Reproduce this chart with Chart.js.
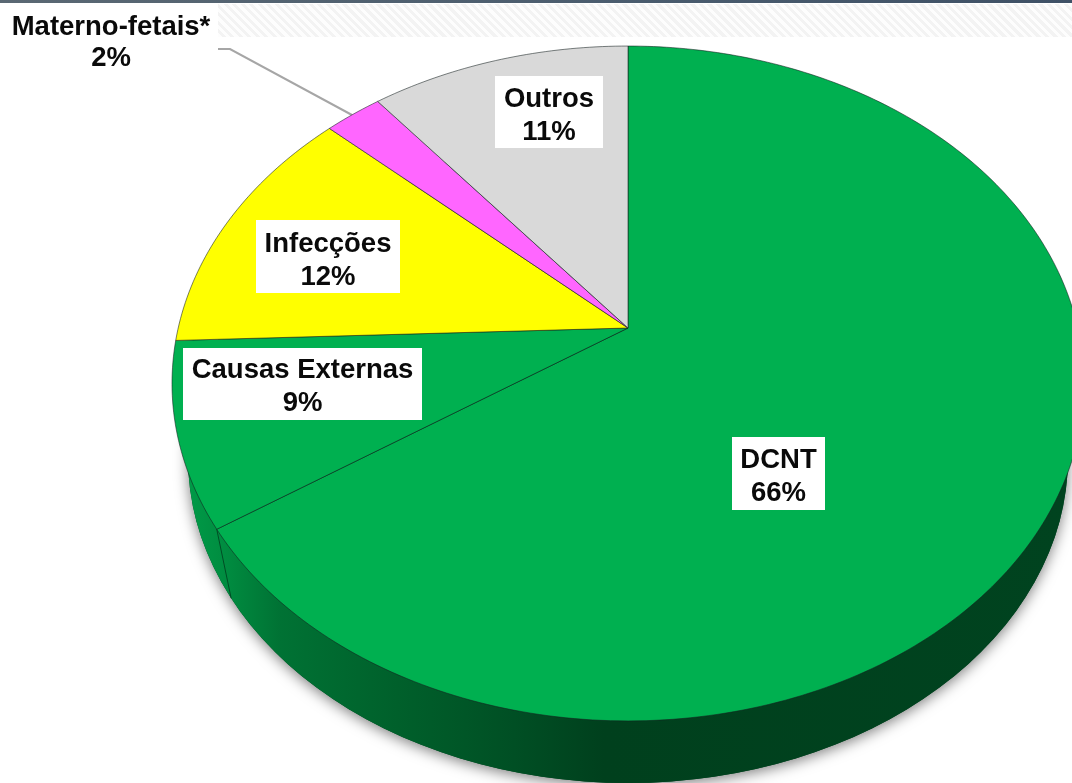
<!DOCTYPE html>
<html lang="pt">
<head>
<meta charset="utf-8">
<title>Causas de morte</title>
<script src="https://cdn.jsdelivr.net/npm/chart.js@4/dist/chart.umd.min.js"></script>
<style>
    html, body { margin: 0; padding: 0; background: #fff; overflow: hidden; }
    #wrap { position: relative; width: 1072px; height: 783px; }
    #topBar {
        position: absolute; left: 0; top: 0; width: 1072px; height: 3px;
        background: linear-gradient(90deg, #5a6873, #4a5c6e 60%, #3f5166);
    }
    #hatch {
        position: absolute; left: 218px; top: 4px; width: 854px; height: 33px;
        background: repeating-linear-gradient(45deg, #fdfdfd 0 3px, #f3f3f3 3px 6px);
    }
    canvas { position: absolute; left: 0; top: 0; }
</style>
</head>
<body>
<div id="wrap">
    <div id="topBar"></div>
    <div id="hatch"></div>
    <canvas id="pie" width="1072" height="783"></canvas>
</div>
<script>
// Values (printed labels are these, rounded)
const categories = ['DCNT', 'Causas Externas', 'Infecções', 'Materno-fetais*', 'Outros'];
const shares = [65.6, 8.8, 12.4, 2.4, 10.8];
const sliceColors = ['#00B050', '#00B050', '#FFFF00', '#FF66FF', '#D9D9D9'];

// Label boxes: x, y, w, h of the white background
const labelBoxes = [
    [732, 437, 93, 73],
    [183, 348, 239, 72],
    [256, 220, 144, 73],
    [0, 4, 218, 70],
    [495, 76, 108, 72]
];
// Label text: centre x, middle of first line, middle of second line
const labelText = [
    [778.5, 460, 493],
    [302.5, 370, 403],
    [328, 244, 277],
    [111, 27, 58],
    [549, 99, 132]
];

// Perspective of the tilted pie top: apex, and the vertical squeeze
const APEX_X = 628;
const APEX_Y = 328;
const SPREAD_X = 449.8;
const SPREAD_Y = 274.4;
const TILT = 0.1644;

// Ellipse of the top rim and of the lower edge of the side wall
const RIM = { x: 628, y: 383.5, rx: 456, ry: 337.5 };
const BASE = { x: 628, y: 458, rx: 440, ry: 325 };

/**
 * Map a point of the flat pie that Chart.js laid out on to the tilted disc
 */
function project(arc, angle, radius) {
    const u = radius / arc.outerRadius * Math.cos(angle);
    const v = radius / arc.outerRadius * Math.sin(angle);
    const d = 1 - TILT * v;
    return { x: APEX_X + SPREAD_X * u / d, y: (SPREAD_Y * v + APEX_Y) / d };
}

/**
 * Same place on the lower edge of the wall, for a point on the rim
 */
function toBase(p) {
    return {
        x: BASE.x + (p.x - RIM.x) * BASE.rx / RIM.rx,
        y: BASE.y + (p.y - RIM.y) * BASE.ry / RIM.ry
    };
}

// Slices are drawn in perspective, the angles still come from the controller
Chart.ArcElement.prototype.draw = function (ctx) {
    const { startAngle, endAngle, outerRadius } = this.getProps(['startAngle', 'endAngle', 'outerRadius']);
    const steps = Math.ceil((endAngle - startAngle) * 60);
    ctx.save();
    ctx.beginPath();
    ctx.moveTo(APEX_X, APEX_Y);
    for (let i = 0; i <= steps; i++) {
        const p = project(this, startAngle + (endAngle - startAngle) * i / steps, outerRadius);
        ctx.lineTo(p.x, p.y);
    }
    ctx.closePath();
    ctx.fillStyle = this.options.backgroundColor;
    ctx.fill();
    ctx.lineWidth = this.options.borderWidth;
    ctx.strokeStyle = this.options.borderColor;
    ctx.lineJoin = 'round';
    ctx.stroke();
    ctx.restore();
};

const sideWall = {
    id: 'sideWall',
    beforeDatasetsDraw(chart) {
        const ctx = chart.ctx;
        const shade = ctx.createLinearGradient(172, 0, 1072, 0);
        shade.addColorStop(0, '#00a04a');
        shade.addColorStop(0.06, '#008c40');
        shade.addColorStop(0.12, '#007234');
        shade.addColorStop(0.25, '#00602b');
        shade.addColorStop(0.38, '#004f24');
        shade.addColorStop(0.48, '#00401d');
        shade.addColorStop(1, '#00431f');

        ctx.save();
        ctx.shadowColor = 'rgba(0, 0, 0, 0.5)';
        ctx.shadowBlur = 14;
        ctx.shadowOffsetX = 0;
        ctx.shadowOffsetY = 3;
        ctx.fillStyle = '#00431f';
        ctx.beginPath();
        ctx.ellipse(BASE.x, BASE.y, BASE.rx, BASE.ry, 0, 0, Math.PI * 2);
        ctx.fill();
        ctx.restore();

        ctx.save();
        ctx.fillStyle = shade;
        ctx.beginPath();
        ctx.ellipse(BASE.x, BASE.y, BASE.rx, BASE.ry, 0, 0, Math.PI * 2);
        ctx.fill();

        // edge where the first two slices meet, carried down the wall
        const first = chart.getDatasetMeta(0).data[0];
        const top = project(first, first.endAngle, first.outerRadius);
        const bottom = toBase(top);
        ctx.strokeStyle = 'rgba(0, 40, 20, 0.8)';
        ctx.lineWidth = 0.8;
        ctx.beginPath();
        ctx.moveTo(top.x, top.y);
        ctx.lineTo(bottom.x, bottom.y);
        ctx.stroke();

        // leader line of the small slice
        ctx.strokeStyle = '#a6a6a6';
        ctx.lineWidth = 2;
        ctx.beginPath();
        ctx.moveTo(218, 49);
        ctx.lineTo(230, 49);
        ctx.lineTo(352, 115);
        ctx.stroke();
        ctx.restore();
    }
};

const sliceLabels = {
    id: 'sliceLabels',
    afterDatasetsDraw(chart) {
        const ctx = chart.ctx;
        ctx.save();
        ctx.font = 'bold 27.5px "Liberation Sans", Arial, sans-serif';
        ctx.textAlign = 'center';
        ctx.textBaseline = 'middle';
        categories.forEach((name, i) => {
            const [x, y, w, h] = labelBoxes[i];
            const [cx, line1, line2] = labelText[i];
            ctx.fillStyle = '#fff';
            ctx.fillRect(x, y, w, h);
            ctx.fillStyle = '#0a0a0a';
            ctx.fillText(name, cx, line1);
            ctx.fillText(`${Math.round(shares[i])}%`, cx, line2);
        });
        ctx.restore();
    }
};

new Chart(document.getElementById('pie'), {
    type: 'pie',
    data: {
        labels: categories,
        datasets: [{
            data: shares,
            backgroundColor: sliceColors,
            borderColor: 'rgba(20, 30, 30, 0.7)',
            borderWidth: 0.8
        }]
    },
    options: {
        responsive: false,
        animation: false,
        layout: { padding: 0 },
        plugins: {
            legend: { display: false },
            tooltip: { enabled: false }
        }
    },
    plugins: [sideWall, sliceLabels]
});
</script>
</body>
</html>
